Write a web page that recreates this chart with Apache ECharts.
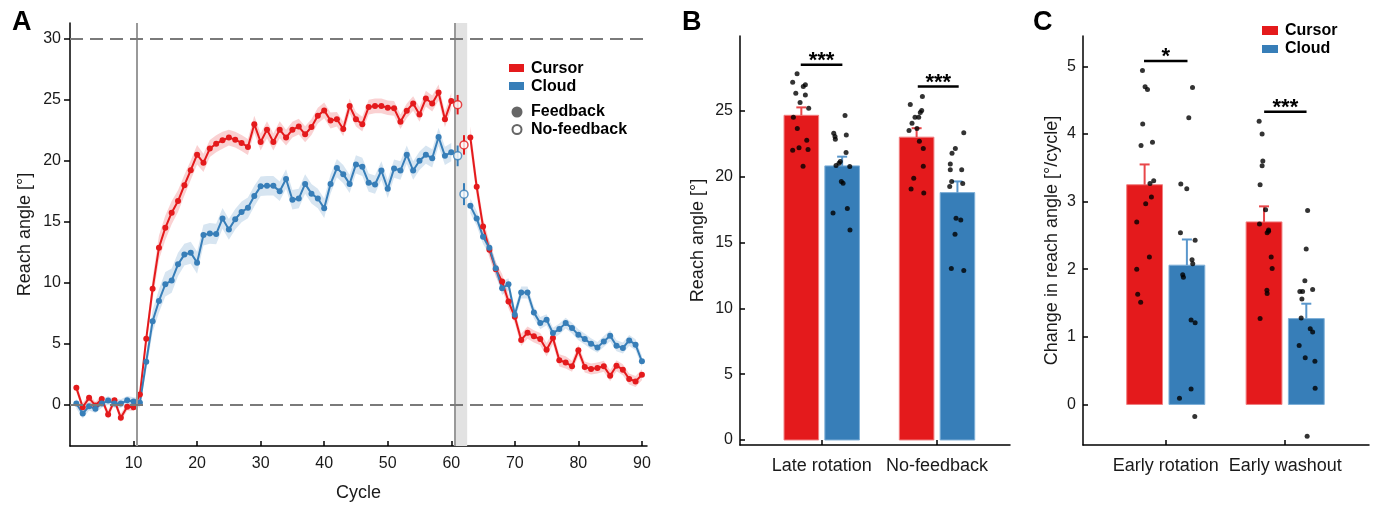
<!DOCTYPE html>
<html><head><meta charset="utf-8">
<script src="https://cdn.jsdelivr.net/npm/echarts@6/dist/echarts.min.js"></script>
<style>html,body{margin:0;padding:0;background:#fff}#c{width:1375px;height:507px}</style>
</head><body><div id="c"></div>
<script>
const RED = '#e41a1c', BLUE = '#377eb8';
const FONT = '"Liberation Sans", Arial, Helvetica, sans-serif';

// ---------- Panel A data ----------
const cycleTicks = [10, 20, 30, 40, 50, 60, 70, 80, 90];
const angleTicksA = [0, 5, 10, 15, 20, 25, 30];
const redFb = [1.37,-0.22,0.55,-0.08,0.46,-0.82,0.35,-1.09,-0.19,-0.22,
  0.82,5.4,9.49,12.87,14.5,15.74,16.69,18.0,19.23,20.5,
  19.83,21.0,21.4,21.68,21.9,21.73,21.46,21.13,23.0,21.54,
  22.55,21.54,22.55,21.9,22.55,22.8,22.17,22.77,23.7,24.13,
  23.3,23.4,22.6,24.5,23.4,23.0,24.4,24.5,24.5,24.35,
  24.3,23.2,24.1,24.7,23.8,25.1,24.7,25.6,23.4,24.9,
  null,null,21.9,17.86,14.6,12.7,11.1,10.1,8.45,7.2,
  5.3,5.9,5.6,5.37,4.5,5.45,3.63,3.46,3.14,4.45,
  3.08,2.92,3.0,3.14,2.37,3.19,2.86,2.1,1.9,2.45];
const blueFb = [0.08,-0.74,-0.14,-0.35,0.08,0.33,0.08,0.08,0.35,0.25,
  0.14,3.52,6.84,8.5,9.87,10.17,11.5,12.3,12.46,11.64,
  13.9,14.04,13.99,15.27,14.37,15.2,15.8,16.14,17.1,17.9,
  17.94,17.94,17.5,18.5,16.8,16.9,18.1,17.3,16.9,16.1,
  18.1,19.4,18.9,18.1,19.7,19.5,18.2,18.05,19.2,17.7,
  19.36,19.2,20.5,19.2,20.0,20.5,20.2,21.95,20.4,20.7,
  null,null,16.3,15.27,13.77,12.87,11.18,9.54,9.87,7.36,
  9.19,9.19,7.55,6.68,6.95,5.86,6.19,6.68,6.27,5.73,
  5.37,4.99,4.69,5.18,5.65,4.83,4.64,5.26,4.91,3.55];
const redSE = [0.35,0.35,0.3,0.3,0.3,0.35,0.3,0.35,0.3,0.3,
  0.4,0.6,0.9,1.0,1.0,0.95,0.9,0.85,0.8,0.8,
  0.75,0.7,0.7,0.7,0.65,0.65,0.65,0.65,0.7,0.7,
  0.7,0.7,0.7,0.65,0.65,0.65,0.65,0.65,0.65,0.65,
  0.65,0.6,0.6,0.6,0.6,0.6,0.6,0.6,0.6,0.6,
  0.6,0.6,0.6,0.6,0.6,0.65,0.65,0.65,0.65,0.65,
  null,null,0.9,0.8,0.7,0.65,0.6,0.6,0.55,0.55,
  0.5,0.5,0.5,0.5,0.55,0.5,0.5,0.5,0.45,0.45,
  0.45,0.45,0.45,0.45,0.45,0.45,0.45,0.45,0.45,0.45];
const blueSE = [0.4,0.4,0.35,0.35,0.35,0.35,0.35,0.35,0.35,0.35,
  0.4,0.7,0.9,0.95,1.0,1.0,0.95,0.9,0.9,0.9,
  0.85,0.85,0.85,0.85,0.85,0.85,0.85,0.85,0.85,0.8,
  0.8,0.8,0.8,0.8,0.8,0.8,0.8,0.8,0.8,0.8,
  0.8,0.75,0.75,0.75,0.75,0.75,0.75,0.75,0.75,0.75,
  0.75,0.75,0.75,0.75,0.75,0.75,0.75,0.75,0.75,0.75,
  null,null,0.6,0.6,0.6,0.55,0.55,0.55,0.5,0.5,
  0.5,0.5,0.5,0.5,0.45,0.45,0.45,0.45,0.45,0.45,
  0.45,0.45,0.45,0.45,0.45,0.45,0.45,0.45,0.45,0.45];
const noFbCycles = [61, 62];
const redNoFb = [24.6, 21.3];
const redNoFbSE = [0.8, 0.8];
const blueNoFb = [20.4, 17.26];
const blueNoFbSE = [0.85, 0.9];
const phaseLines = [10.5, 60.5];
const noFbBlock = [60.5, 62.5];
const refLevels = [0, 30];

// ---------- Panel B data ----------
const catsB = ['Late rotation', 'No-feedback'];
const angleTicksB = [0, 5, 10, 15, 20, 25];
const cursorB = [24.65, 22.99];
const cursorBSE = [0.6, 0.68];
const cloudB = [20.81, 18.78];
const cloudBSE = [0.7, 0.85];
const bCursorLateY = [27.8,27.16,26.96,26.84,26.33,26.2,25.62,25.19,24.5,23.65,22.76,22.18,22.0,22.05,20.78];
const bCursorLateX = [-0.214,-0.252,-0.142,-0.160,-0.225,-0.142,-0.188,-0.113,-0.246,-0.212,-0.130,-0.197,-0.252,-0.119,-0.162];
const bCloudLateY = [24.63,23.29,23.04,22.84,23.16,21.82,21.14,21.01,20.84,20.76,19.62,19.49,17.24,17.57,15.95];
const bCloudLateX = [0.202,0.104,0.115,0.118,0.213,0.211,0.161,0.150,0.124,0.243,0.170,0.185,0.098,0.222,0.245];
const bCursorNfY = [26.08,25.47,25.01,24.86,24.5,24.5,24.05,23.65,23.49,22.68,22.13,20.78,19.87,19.06,18.76];
const bCursorNfX = [-0.127,-0.232,-0.133,-0.145,-0.191,-0.159,-0.217,-0.174,-0.243,-0.153,-0.119,-0.119,-0.202,-0.225,-0.115];
const bCloudNfY = [23.32,22.13,21.77,20.96,20.51,20.51,19.62,19.47,19.24,16.84,16.71,15.62,13.01,12.86];
const bCloudNfX = [0.232,0.159,0.130,0.115,0.214,0.115,0.127,0.223,0.110,0.165,0.206,0.156,0.124,0.232];
const sigB = [[-0.182, 0.179, 28.48, '***'], [0.833, 1.188, 26.84, '***']];

// ---------- Panel C data ----------
const catsC = ['Early rotation', 'Early washout'];
const rateTicksC = [0, 1, 2, 3, 4, 5];
const cursorC = [3.25, 2.70];
const cursorCSE = [0.30, 0.23];
const cloudC = [2.06, 1.27];
const cloudCSE = [0.38, 0.22];
const cCursorRotY = [4.94,4.70,4.66,4.15,3.83,3.88,3.31,3.27,3.07,2.97,2.70,2.18,2.0,1.63,1.51];
const cCursorRotX = [-0.195,-0.173,-0.153,-0.193,-0.207,-0.111,-0.101,-0.132,-0.120,-0.168,-0.243,-0.137,-0.243,-0.235,-0.210];
const cCloudRotY = [4.69,4.24,3.26,3.19,2.54,2.43,2.14,2.08,1.92,1.88,1.25,1.21,0.23,0.09,-0.18];
const cCloudRotX = [0.224,0.193,0.126,0.176,0.123,0.246,0.220,0.226,0.142,0.148,0.212,0.246,0.212,0.115,0.243];
const cCursorWashY = [4.19,4.0,3.6,3.53,3.25,2.88,2.67,2.58,2.54,2.56,2.18,2.01,1.69,1.64,1.27];
const cCursorWashX = [-0.218,-0.193,-0.187,-0.193,-0.210,-0.164,-0.215,-0.139,-0.151,-0.139,-0.117,-0.109,-0.153,-0.151,-0.210];
const cCloudWashY = [2.87,2.30,1.83,1.70,1.67,1.67,1.56,1.28,1.12,1.07,0.87,0.69,0.64,0.24,-0.47];
const cCloudWashX = [0.188,0.176,0.165,0.230,0.123,0.146,0.140,0.134,0.210,0.230,0.117,0.168,0.249,0.251,0.184];
const sigC = [[-0.182, 0.182, 5.08, '*'], [0.824, 1.179, 4.33, '***']];

// ---------- helpers ----------
const pairs = (arr) => arr.map((v, i) => [i + 1, v]);
const dots = (xs, ys, cat) => ys.map((y, i) => [cat + xs[i], y]);

function bandSeries(vals, se, color) {
  return {
    type: 'custom', xAxisIndex: 0, yAxisIndex: 0, z: 2, silent: true,
    data: vals.map((v, i) => [i + 1, v, se[i]]), encode: { x: 0, y: 1 },
    renderItem: (p, api) => {
      if (p.dataIndex !== 0) return null;
      const segs = []; let cur = [];
      vals.forEach((v, i) => {
        if (v == null) { if (cur.length) segs.push(cur); cur = []; }
        else cur.push(i);
      });
      if (cur.length) segs.push(cur);
      return { type: 'group', children: segs.map(seg => {
        const up = seg.map(i => api.coord([i + 1, vals[i] + se[i]]));
        const lo = seg.slice().reverse().map(i => api.coord([i + 1, vals[i] - se[i]]));
        return { type: 'polygon', shape: { points: up.concat(lo) }, style: { fill: color } };
      }) };
    }
  };
}

const BAR_OFF = 0.177, BAR_HALF = 0.15;
function barSeries(gi, vals, se, off, fill, stroke, errColor) {
  return [{
    type: 'custom', xAxisIndex: gi, yAxisIndex: gi, z: 2,
    data: vals.map((v, i) => [i, v, se[i]]),
    encode: { x: 0, y: 1 },
    renderItem: (p, api) => {
      const x = api.value(0) + off, y = api.value(1);
      const a = api.coord([x - BAR_HALF, y]), b = api.coord([x + BAR_HALF, 0]);
      return { type: 'rect', shape: { x: a[0], y: a[1], width: b[0] - a[0], height: b[1] - a[1] },
        style: { fill: fill, stroke: stroke, lineWidth: 1 } };
    }
  }, {
    type: 'custom', xAxisIndex: gi, yAxisIndex: gi, z: 3,
    data: vals.map((v, i) => [i, v, se[i]]),
    encode: { x: 0, y: 1 },
    renderItem: (p, api) => {
      const x = api.value(0) + off, y = api.value(1), s = api.value(2);
      const a = api.coord([x, y]), b = api.coord([x, y + s]);
      return { type: 'group', children: [
        { type: 'line', shape: { x1: a[0], y1: a[1], x2: b[0], y2: b[1] }, style: { stroke: errColor, lineWidth: 2 } },
        { type: 'line', shape: { x1: b[0] - 5, y1: b[1], x2: b[0] + 5, y2: b[1] }, style: { stroke: errColor, lineWidth: 2 } }
      ] };
    }
  }];
}
function dotSeries(gi, data) {
  return { type: 'scatter', xAxisIndex: gi, yAxisIndex: gi, z: 5, symbolSize: 5,
    itemStyle: { color: '#000' }, data: data, silent: true };
}
function sigSeries(gi, data) {
  return { type: 'custom', xAxisIndex: gi, yAxisIndex: gi, z: 6,
    data: data, encode: { x: [0, 1], y: 2 },
    renderItem: (p, api) => {
      const a = api.coord([api.value(0), api.value(2)]), b = api.coord([api.value(1), api.value(2)]);
      return { type: 'group', children: [
        { type: 'line', shape: { x1: a[0], y1: a[1], x2: b[0], y2: b[1] }, style: { stroke: '#000', lineWidth: 2.5 } },
        { type: 'text', x: (a[0] + b[0]) / 2, y: a[1] + 7,
          style: { text: data[p.dataIndex][3], font: 'bold 22px ' + FONT, fill: '#000', align: 'center', verticalAlign: 'bottom' } }
      ] };
    }
  };
}
function noFbErr(vals, se, color) {
  return { type: 'custom', xAxisIndex: 0, yAxisIndex: 0, z: 7,
    data: vals.map((v, i) => [noFbCycles[i], v, se[i]]), encode: { x: 0, y: 1 },
    renderItem: (p, api) => {
      const x = api.value(0), y = api.value(1), s = api.value(2);
      const a = api.coord([x, y - s]), b = api.coord([x, y + s]);
      return { type: 'line', shape: { x1: a[0], y1: a[1], x2: b[0], y2: b[1] }, style: { stroke: color, lineWidth: 2 } };
    }
  };
}

const axisLine = { show: true, onZero: false, lineStyle: { color: '#000', width: 1.5 } };
const tickLabel = { color: '#1a1a1a', fontSize: 16, fontFamily: FONT };
const nameStyle = { color: '#1a1a1a', fontSize: 18, fontFamily: FONT };

const option = {
  animation: false,
  textStyle: { fontFamily: FONT },
  grid: [
    { left: 70, right: 728, top: 23, bottom: 60 },
    { left: 740, right: 365, top: 36, bottom: 62 },
    { left: 1083, right: 6, top: 36, bottom: 62 }
  ],
  xAxis: [
    { type: 'value', gridIndex: 0, min: 0, max: 90.8, axisLine: axisLine, splitLine: { show: false },
      axisTick: { inside: true, length: 5, customValues: cycleTicks, lineStyle: { color: '#000', width: 1.5 } },
      axisLabel: Object.assign({ customValues: cycleTicks, margin: 10 }, tickLabel),
      name: 'Cycle', nameLocation: 'middle', nameGap: 38, nameTextStyle: nameStyle },
    { type: 'value', gridIndex: 1, min: -0.709, max: 1.633, axisLine: axisLine, splitLine: { show: false },
      axisTick: { inside: true, length: 5, customValues: [0, 1], lineStyle: { color: '#000', width: 1.5 } },
      axisLabel: { customValues: [0, 1], margin: 12, fontSize: 18, color: '#1a1a1a', fontFamily: FONT, formatter: v => catsB[Math.round(v)] } },
    { type: 'value', gridIndex: 2, min: -0.693, max: 1.702, axisLine: axisLine, splitLine: { show: false },
      axisTick: { inside: true, length: 5, customValues: [0, 1], lineStyle: { color: '#000', width: 1.5 } },
      axisLabel: { customValues: [0, 1], margin: 12, fontSize: 18, color: '#1a1a1a', fontFamily: FONT, formatter: v => catsC[Math.round(v)] } }
  ],
  yAxis: [
    { type: 'value', gridIndex: 0, min: -3.4, max: 31.3, axisLine: axisLine, splitLine: { show: false },
      axisTick: { inside: false, length: 6, customValues: angleTicksA, lineStyle: { color: '#000', width: 1.5 } },
      axisLabel: Object.assign({ customValues: angleTicksA, margin: 9 }, tickLabel),
      name: 'Reach angle [°]', nameLocation: 'middle', nameRotate: 90, nameGap: 36, nameTextStyle: nameStyle },
    { type: 'value', gridIndex: 1, min: -0.38, max: 30.67, axisLine: axisLine, splitLine: { show: false },
      axisTick: { inside: true, length: 5, customValues: angleTicksB, lineStyle: { color: '#000', width: 1.5 } },
      axisLabel: Object.assign({ customValues: angleTicksB, margin: 7 }, tickLabel),
      name: 'Reach angle [°]', nameLocation: 'middle', nameRotate: 90, nameGap: 33, nameTextStyle: nameStyle },
    { type: 'value', gridIndex: 2, min: -0.6, max: 5.45, axisLine: axisLine, splitLine: { show: false },
      axisTick: { inside: true, length: 5, customValues: rateTicksC, lineStyle: { color: '#000', width: 1.5 } },
      axisLabel: Object.assign({ customValues: rateTicksC, margin: 7 }, tickLabel),
      name: 'Change in reach angle [°/cycle]', nameLocation: 'middle', nameRotate: 90, nameGap: 22, nameTextStyle: nameStyle }
  ],
  graphic: [
    { type: 'text', left: 12, top: 9, style: { text: 'A', font: 'bold 27px ' + FONT, fill: '#000' } },
    { type: 'text', left: 682, top: 9, style: { text: 'B', font: 'bold 27px ' + FONT, fill: '#000' } },
    { type: 'text', left: 1033, top: 9, style: { text: 'C', font: 'bold 27px ' + FONT, fill: '#000' } },
    // legend A
    { type: 'rect', z: 100, shape: { x: 509, y: 64, width: 15, height: 8 }, style: { fill: RED } },
    { type: 'text', z: 100, x: 531, y: 69, style: { text: 'Cursor', font: 'bold 16px ' + FONT, fill: '#000', verticalAlign: 'middle' } },
    { type: 'rect', z: 100, shape: { x: 509, y: 82, width: 15, height: 8 }, style: { fill: BLUE } },
    { type: 'text', z: 100, x: 531, y: 87, style: { text: 'Cloud', font: 'bold 16px ' + FONT, fill: '#000', verticalAlign: 'middle' } },
    { type: 'circle', z: 100, shape: { cx: 517, cy: 112, r: 5.5 }, style: { fill: '#666' } },
    { type: 'text', z: 100, x: 531, y: 112, style: { text: 'Feedback', font: 'bold 16px ' + FONT, fill: '#000', verticalAlign: 'middle' } },
    { type: 'circle', z: 100, shape: { cx: 517, cy: 129.5, r: 4.5 }, style: { fill: '#fff', stroke: '#666', lineWidth: 2 } },
    { type: 'text', z: 100, x: 531, y: 130, style: { text: 'No-feedback', font: 'bold 16px ' + FONT, fill: '#000', verticalAlign: 'middle' } },
    // legend C
    { type: 'rect', shape: { x: 1262, y: 26, width: 16, height: 9 }, style: { fill: RED } },
    { type: 'text', x: 1285, y: 31, style: { text: 'Cursor', font: 'bold 16px ' + FONT, fill: '#000', verticalAlign: 'middle' } },
    { type: 'rect', shape: { x: 1262, y: 45, width: 16, height: 8 }, style: { fill: BLUE } },
    { type: 'text', x: 1285, y: 49, style: { text: 'Cloud', font: 'bold 16px ' + FONT, fill: '#000', verticalAlign: 'middle' } }
  ],
  series: [
    // reference lines / areas in panel A
    { type: 'line', xAxisIndex: 0, yAxisIndex: 0, data: [], z: 1, silent: true,
      markArea: { silent: true, itemStyle: { color: '#e2e2e2' }, data: [[{ xAxis: noFbBlock[0] }, { xAxis: noFbBlock[1] }]] },
      markLine: { silent: true, symbol: 'none', label: { show: false },
        data: phaseLines.map(v => ({ xAxis: v, lineStyle: { color: '#999', width: 2, type: 'solid' } }))
          .concat(refLevels.map(v => ({ yAxis: v, lineStyle: { color: '#7a7a7a', width: 2, type: [13, 7] } }))) } },
    // SE bands
    bandSeries(redFb, redSE, 'rgba(228,26,28,0.2)'),
    bandSeries(blueFb, blueSE, 'rgba(55,126,184,0.2)'),
    // feedback lines
    { type: 'line', xAxisIndex: 0, yAxisIndex: 0, data: pairs(redFb), z: 4, symbol: 'circle', symbolSize: 6,
      lineStyle: { color: RED, width: 2 }, itemStyle: { color: RED }, connectNulls: false },
    { type: 'line', xAxisIndex: 0, yAxisIndex: 0, data: pairs(blueFb), z: 4, symbol: 'circle', symbolSize: 6,
      lineStyle: { color: BLUE, width: 2 }, itemStyle: { color: BLUE }, connectNulls: false },
    // no-feedback points
    noFbErr(redNoFb, redNoFbSE, RED),
    noFbErr(blueNoFb, blueNoFbSE, BLUE),
    { type: 'scatter', xAxisIndex: 0, yAxisIndex: 0, z: 8, symbolSize: 8,
      itemStyle: { color: '#fff', borderColor: RED, borderWidth: 1.5 }, data: redNoFb.map((v, i) => [noFbCycles[i], v]) },
    { type: 'scatter', xAxisIndex: 0, yAxisIndex: 0, z: 8, symbolSize: 8,
      itemStyle: { color: '#fff', borderColor: BLUE, borderWidth: 1.5 }, data: blueNoFb.map((v, i) => [noFbCycles[i], v]) },
    // panel B
    ...barSeries(1, cursorB, cursorBSE, -BAR_OFF, RED, '#f07f80', '#e8474a'),
    ...barSeries(1, cloudB, cloudBSE, BAR_OFF, BLUE, '#7fb0d8', '#5a97cc'),
    dotSeries(1, dots(bCursorLateX, bCursorLateY, 0).concat(dots(bCursorNfX, bCursorNfY, 1))),
    dotSeries(1, dots(bCloudLateX, bCloudLateY, 0).concat(dots(bCloudNfX, bCloudNfY, 1))),
    sigSeries(1, sigB),
    // panel C
    ...barSeries(2, cursorC, cursorCSE, -BAR_OFF, RED, '#f07f80', '#e8474a'),
    ...barSeries(2, cloudC, cloudCSE, BAR_OFF, BLUE, '#7fb0d8', '#5a97cc'),
    dotSeries(2, dots(cCursorRotX, cCursorRotY, 0).concat(dots(cCursorWashX, cCursorWashY, 1))),
    dotSeries(2, dots(cCloudRotX, cCloudRotY, 0).concat(dots(cCloudWashX, cCloudWashY, 1))),
    sigSeries(2, sigC)
  ]
};
const chart = echarts.init(document.getElementById('c'), null, { renderer: 'canvas' });
chart.setOption(option);
</script></body></html>
